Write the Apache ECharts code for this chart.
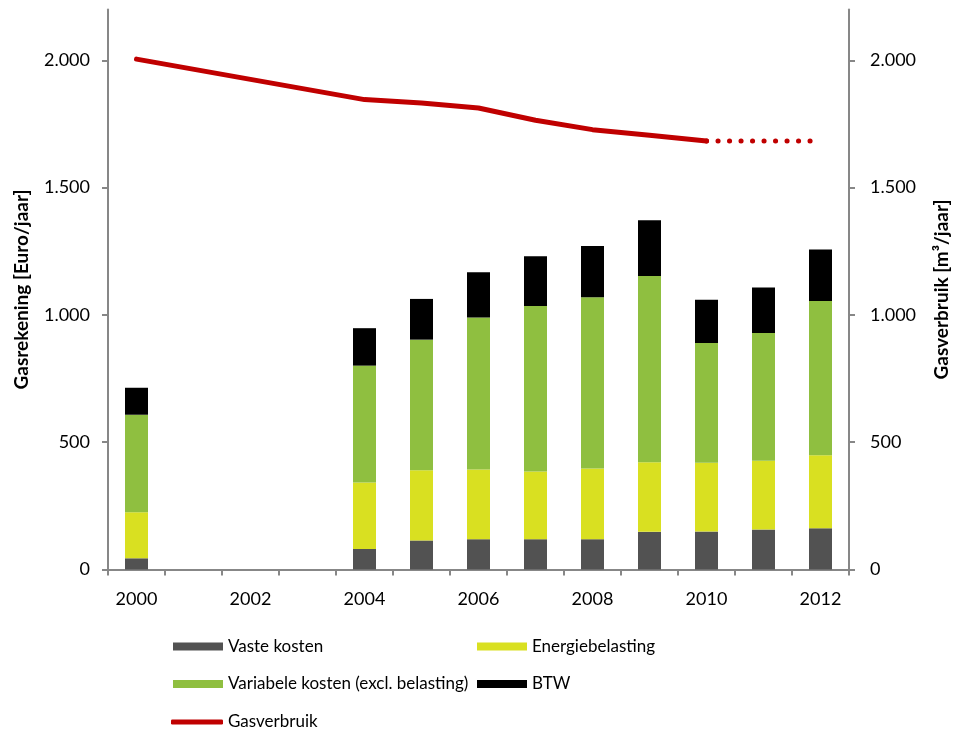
<!DOCTYPE html>
<html>
<head>
<meta charset="utf-8">
<script src="https://cdn.jsdelivr.net/npm/echarts@6/dist/echarts.min.js"></script>
<style>
html,body{margin:0;padding:0;background:#fff;}
#chart{width:960px;height:733px;}
</style>
</head>
<body>
<div id="chart"></div>
<script>
const years = ['2000','2001','2002','2003','2004','2005','2006','2007','2008','2009','2010','2011','2012'];
const vasteKosten      = [44, null, null, null, 81, 114, 119, 119, 119, 148, 149, 157, 162];
const energiebelasting = [181, null, null, null, 261, 276, 274, 266, 278, 273, 270, 270, 287];
const variabeleKosten  = [383, null, null, null, 459, 513, 597, 650, 673, 732, 471, 502, 606];
const btw              = [106, null, null, null, 147, 160, 178, 196, 201, 219, 170, 179, 202];
const gasverbruik      = [2005, null, null, null, 1846, 1833, 1813, 1765, 1728, 1706, 1683, null, null];
const gasverbruikPrognose = [null, null, null, null, null, null, null, null, null, null, 1683, 1683, 1683];
const yTicks = [0, 500, 1000, 1500, 2000];

const FONT = 'Lato';
const AXIS_COLOR = '#878787';

function fmt(v){
  if (v >= 1000) {
    const s = String(v);
    return s.slice(0, s.length-3) + '.' + s.slice(-3);
  }
  return String(v);
}

const chart = echarts.init(document.getElementById('chart'), null, {renderer:'canvas'});

function yAxisCfg(pos, name, gap, labelMargin){
  return {
    type:'value', position:pos, min:0, max:2200, interval:500,
    name:name, nameLocation:'middle', nameGap:gap,
    nameTextStyle:{fontFamily:FONT, fontSize:19, fontWeight:'bold', color:'#000'},
    axisLine:{show:true, lineStyle:{color:AXIS_COLOR, width:2}},
    axisTick:{show:true, length:6, lineStyle:{color:AXIS_COLOR, width:2}, customValues: yTicks},
    axisLabel:{fontFamily:FONT, fontSize:18, color:'#000', margin:labelMargin, formatter:fmt, customValues: yTicks},
    splitLine:{show:false}
  };
}

function legendCfg(name, left, top, icon, h, color){
  return {
    data:[{name:name, icon:icon, itemStyle:{color:color}}],
    left:left, top:top, padding:0, itemWidth: icon==='roundRect'?52:50, itemHeight:h,
    textStyle:{fontFamily:FONT, fontSize:17, color:'#000'},
    selectedMode:false
  };
}

const option = {
  animation:false,
  backgroundColor:'#fff',
  grid:{left:108, right:111, top:9.5, bottom:163.5, containLabel:false},
  legend:[
    legendCfg('Vaste kosten', 173, 638, 'rect', 8, '#525252'),
    legendCfg('Energiebelasting', 477, 638, 'rect', 8, '#d9e021'),
    legendCfg('Variabele kosten (excl. belasting)', 173, 675.5, 'rect', 8, '#8fbf40'),
    legendCfg('BTW', 477, 675.5, 'rect', 8, '#000000'),
    legendCfg('Gasverbruik', 171, 713.5, 'roundRect', 5, '#c00000')
  ],
  xAxis:{
    type:'category', data:years, boundaryGap:true,
    axisLine:{show:true, lineStyle:{color:AXIS_COLOR, width:2}},
    axisTick:{show:true, interval:0, length:6, lineStyle:{color:AXIS_COLOR, width:2}},
    axisLabel:{interval:1, fontFamily:FONT, fontSize:18, color:'#000', margin:21}
  },
  yAxis:[
    yAxisCfg('left', 'Gasrekening [Euro/jaar]', 77, 18),
    yAxisCfg('right', 'Gasverbruik [m³/jaar]', 83, 21)
  ],
  series:[
    {name:'Vaste kosten', type:'bar', stack:'k', barWidth:23, data:vasteKosten, itemStyle:{color:'#525252'}},
    {name:'Energiebelasting', type:'bar', stack:'k', barWidth:23, data:energiebelasting, itemStyle:{color:'#d9e021'}},
    {name:'Variabele kosten (excl. belasting)', type:'bar', stack:'k', barWidth:23, data:variabeleKosten, itemStyle:{color:'#8fbf40'}},
    {name:'BTW', type:'bar', stack:'k', barWidth:23, data:btw, itemStyle:{color:'#000000'}},
    {name:'Gasverbruik', type:'line', yAxisIndex:1, data:gasverbruik, connectNulls:true,
      symbol:'none', showSymbol:false, z:5,
      lineStyle:{color:'#c00000', width:5, cap:'round', join:'round'}, itemStyle:{color:'#c00000'}},
    {name:'Gasverbruik prognose', type:'line', yAxisIndex:1, data:gasverbruikPrognose,
      symbol:'none', showSymbol:false, z:5,
      lineStyle:{color:'#c00000', width:5, type:[0.1, 11.4], cap:'round'}}
  ]
};
chart.setOption(option);
</script>
</body>
</html>
